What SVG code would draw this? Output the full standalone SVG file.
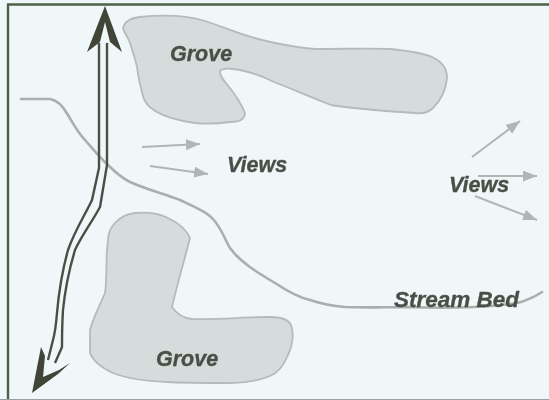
<svg xmlns="http://www.w3.org/2000/svg" width="549" height="400" viewBox="0 0 549 400">
<style>
.grove{fill:#d6dcdb;stroke:#b5bbba;stroke-width:1.8;stroke-linejoin:round}
.rail{fill:none;stroke:#4a5045;stroke-width:2.4;stroke-linejoin:round;stroke-linecap:butt}
.head{fill:#3f4538}
.stream{fill:none;stroke:#a9afad;stroke-width:2.6;stroke-linecap:round}
.view{fill:none;stroke:#b0b6b4;stroke-width:2;marker-end:url(#a)}
text{font-family:"Liberation Sans",Arial,sans-serif;font-weight:bold;font-style:italic;fill:#4a4f47;stroke:#4a4f47;stroke-width:.35;font-size:21.5px}
.soft{filter:url(#s)}
</style>
<defs>
<marker id="a" markerUnits="userSpaceOnUse" markerWidth="15" markerHeight="12" refX="14" refY="5.500" orient="auto"><path d="M0 0L14 5.500L0 11z" fill="#b0b6b4"/></marker>
<filter id="s" x="-5%" y="-5%" width="110%" height="110%"><feGaussianBlur stdDeviation="0.45"/></filter>
</defs>
<rect width="549" height="400" fill="#eff7f8"/>
<path d="M8 400V4.500H549" fill="none" stroke="#4f6248" stroke-width="2.4"/>
<path d="M0 399.500H549" fill="none" stroke="#9a9ea6" stroke-width="1"/>
<g id="grove-top" class="soft">
<path class="grove" d="M123 28C125 21 130 18 140 17C160 15 185 15 205 21C225 27 240 36 275 43C290 46 300 48 315 49C345 49 370 48 391 49C410 51 425 53 434 58C444 63 447 70 447 78C446 90 441 100 433 108C428 113 423 114 415 113C400 112 385 111 374 110C355 108 340 107 331 105C310 97 290 88 274 82C262 76 250 72 240 70C230 68 222 68 220 71C219 76 225 82 230 88C236 96 242 105 245 113C245 119 239 122 230 122C215 124 205 124 195 123C180 121 165 117 155 111C147 106 144 100 143 96C140 85 138 75 137 67C135 58 132 50 130 43C128 37 124 33 123 28Z"/>
</g>
<g id="grove-bottom" class="soft">
<path class="grove" d="M108 240C108 228 118 215 135 213C148 212 160 214 168 218C179 223 187 231 190 238C185 258 177 285 172 307C176 313 182 318 192 319C215 320 245 317 270 317C280 317 288 319 291 325C294 333 293 345 288 355C284 365 278 373 270 376C258 381 245 383 230 383C205 383 185 383 167 382C145 381 125 378 113 373C100 367 93 361 90 353C90 345 90 337 90 330C93 318 100 305 105 293C107 280 106 262 107 250Z"/>
</g>
<g id="connectors" class="soft">
<path id="stream" class="stream" d="M21 99C30 99 42 99 50 99C58 100 64 108 68 115C74 125 78 133 85 140C92 148 100 158 108 165C116 173 122 178 130 182C145 189 165 194 180 200C195 207 207 212 213 219C222 229 225 240 230 248C240 262 258 273 275 283C287 291 297 297 310 300C322 304 332 306 345 307C370 308 385 307 405 307C430 308 455 308 474 307C490 306 505 306 521 302C530 299 536 296 542 292"/>
<path class="rail" d="M99 43V168L92 200C85 215 75 230 68 250C63 268 59 290 57 313C56 325 55 333 53 340L48 360"/>
<path class="rail" d="M107 43V165L100 207C92 222 82 235 75 250C69 270 65 290 63 310C62 325 62 337 62 347L55 363"/>
<path class="head" d="M105 6L122 52L110 42L105 22L100 42L87 52Z"/>
<path class="head" d="M32 393L41 347L45 356L43 377L59 370L70 363L58 374Z"/>
<path class="view" d="M142 147L200 144"/>
<path class="view" d="M150 166L208 174"/>
<path class="view" d="M472 157L520 121"/>
<path class="view" d="M478 176L537 176"/>
<path class="view" d="M475 196L537 220"/>
</g>
<g id="labels" class="soft">
<text x="170" y="61">Grove</text>
<text x="156" y="366">Grove</text>
<text x="227" y="172">Views</text>
<text x="449" y="192">Views</text>
<text x="394" y="307" style="font-size:22.500px">Stream Bed</text>
</g>
</svg>
